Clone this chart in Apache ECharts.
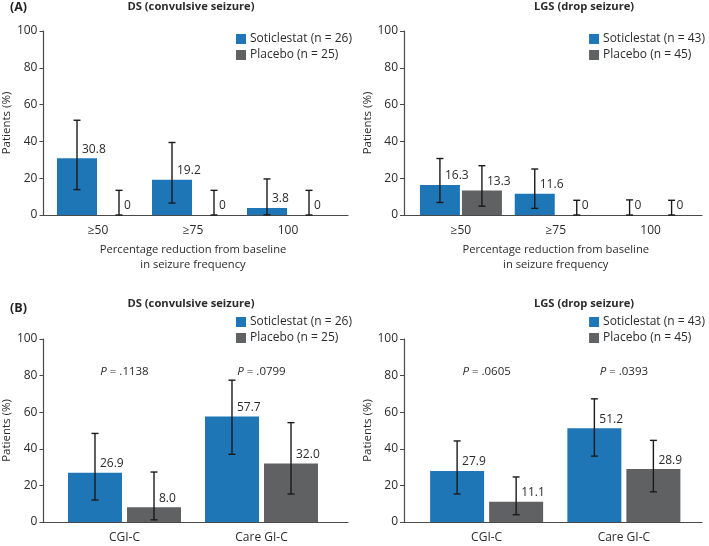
<!DOCTYPE html>
<html><head><meta charset="utf-8">
<script src="https://cdn.jsdelivr.net/npm/echarts@6/dist/echarts.min.js"></script>
<style>html,body{margin:0;padding:0;background:#fff}#c{width:709px;height:546px}</style>
</head><body><div id="c"></div>
<script>
// ---- Data ----
const catA = ['≥50', '≥75', '100'];
const catB = ['CGI-C', 'Care GI-C'];
const yTicks = [0, 20, 40, 60, 80, 100];

// (A) DS convulsive seizure
const dsA_soti = [30.8, 19.2, 3.8];
const dsA_soti_lo = [13.8, 6.5, 0.1];
const dsA_soti_hi = [51.5, 39.4, 19.6];
const dsA_plac = [0, 0, 0];
const dsA_plac_lo = [0, 0, 0];
const dsA_plac_hi = [13.4, 13.4, 13.4];

// (A) LGS drop seizure
const lgsA_soti = [16.3, 11.6, 0];
const lgsA_soti_lo = [6.8, 3.6, 0];
const lgsA_soti_hi = [30.7, 25.0, 8.2];
const lgsA_plac = [13.3, 0, 0];
const lgsA_plac_lo = [4.8, 0, 0];
const lgsA_plac_hi = [26.8, 8.0, 8.0];

// (B) DS convulsive seizure
const dsB_soti = [26.9, 57.7];
const dsB_soti_lo = [12.0, 37.0];
const dsB_soti_hi = [48.4, 77.5];
const dsB_plac = [8.0, 32.0];
const dsB_plac_lo = [1.2, 15.3];
const dsB_plac_hi = [27.3, 54.3];
const pDS = ['.1138', '.0799'];

// (B) LGS drop seizure
const lgsB_soti = [27.9, 51.2];
const lgsB_soti_lo = [15.3, 36.0];
const lgsB_soti_hi = [44.3, 67.3];
const lgsB_plac = [11.1, 28.9];
const lgsB_plac_lo = [4.0, 16.5];
const lgsB_plac_hi = [24.6, 44.6];
const pLGS = ['.0605', '.0393'];

const nDS = ['Soticlestat (n = 26)', 'Placebo (n = 25)'];
const nLGS = ['Soticlestat (n = 43)', 'Placebo (n = 45)'];

// ---- Styles ----
const FONT = 'Open Sans';
const BLUE = '#1f76b6';
const GRAY = '#5f6163';
const TXT = '#2b2b2b';
const AX = '#4a4a4a';

const option = {
  animation: false,
  textStyle: { fontFamily: FONT, color: TXT },
  grid: [], xAxis: [], yAxis: [], series: [], legend: [],
  graphic: []
};

function addPanel(cfg) {
  const gi = option.grid.length;
  // frame grid (axis lines + y labels)
  option.grid.push({ left: cfg.fLeft, width: cfg.fWidth, top: cfg.top, height: cfg.height, containLabel: false });
  option.xAxis.push({ gridIndex: gi, type: 'value', min: 0, max: 1,
    axisLine: { show: true, lineStyle: { color: AX, width: 1.2 } },
    axisTick: { show: false }, axisLabel: { show: false }, splitLine: { show: false } });
  option.yAxis.push({ gridIndex: gi, type: 'value', min: yTicks[0], max: yTicks[yTicks.length - 1], interval: yTicks[1] - yTicks[0],
    name: 'Patients (%)', nameLocation: 'middle', nameGap: 27,
    nameTextStyle: { fontSize: 11.5, color: TXT, fontFamily: FONT },
    axisLine: { show: true, lineStyle: { color: AX, width: 1.2 } },
    axisTick: { show: true, length: 4, lineStyle: { color: AX } },
    axisLabel: { fontSize: 12, color: TXT, margin: 6, fontFamily: FONT },
    splitLine: { show: false } });
  // data grid
  const di = gi + 1;
  option.grid.push({ left: cfg.dLeft, width: cfg.dWidth, top: cfg.top, height: cfg.height, containLabel: false });
  const xa = { gridIndex: di, type: 'category', data: cfg.cats,
    axisLine: { show: false }, axisTick: { show: false },
    axisLabel: { fontSize: 12, color: TXT, margin: 10, fontFamily: FONT } };
  if (cfg.xName) {
    Object.assign(xa, { name: cfg.xName, nameLocation: 'middle', nameGap: 27,
      nameTextStyle: { fontSize: 11.2, color: TXT, lineHeight: 15, fontFamily: FONT } });
  }
  option.xAxis.push(xa);
  option.yAxis.push({ gridIndex: di, type: 'value', min: 0, max: 100, show: false });

  const half = cfg.barWidth * (1 + cfg.gapPct / 100) / 2;
  const fmt = cfg.fixed ? (p => p.value.toFixed(1)) : (p => p.value === 0 ? '0' : p.value.toFixed(1));
  const bars = [
    { name: cfg.names[0], vals: cfg.soti, lo: cfg.sotiLo, hi: cfg.sotiHi, color: BLUE, off: -half },
    { name: cfg.names[1], vals: cfg.plac, lo: cfg.placLo, hi: cfg.placHi, color: GRAY, off: half }
  ];
  bars.forEach(b => {
    option.series.push({ type: 'bar', name: b.name, xAxisIndex: di, yAxisIndex: di,
      data: b.vals, barWidth: cfg.barWidth, barGap: cfg.gapPct + '%',
      itemStyle: { color: b.color },
      label: { show: true, position: 'top', align: 'left', distance: 3, offset: [5, 0],
        fontSize: 12, color: TXT, fontFamily: FONT, formatter: fmt } });
  });
  bars.forEach(b => {
    const off = b.off;
    option.series.push({ type: 'custom', name: b.name + ' CI', xAxisIndex: di, yAxisIndex: di,
      data: b.vals.map((v, i) => [i, b.lo[i], b.hi[i]]),
      encode: { x: 0, y: [1, 2] }, z: 5, silent: true,
      renderItem: function (params, api) {
        const i = api.value(0);
        const p1 = api.coord([i, api.value(1)]);
        const p2 = api.coord([i, api.value(2)]);
        const x = p1[0] + off;
        const cw = 3.5;
        const st = { stroke: '#1a1a1a', lineWidth: 1.4 };
        return { type: 'group', children: [
          { type: 'line', shape: { x1: x, y1: p1[1], x2: x, y2: p2[1] }, style: st },
          { type: 'line', shape: { x1: x - cw, y1: p1[1], x2: x + cw, y2: p1[1] }, style: st },
          { type: 'line', shape: { x1: x - cw, y1: p2[1], x2: x + cw, y2: p2[1] }, style: st }
        ] };
      } });
  });
  if (cfg.pvals) {
    option.series.push({ type: 'scatter', name: 'p', xAxisIndex: di, yAxisIndex: di,
      data: cfg.pvals.map((p, i) => [i, 82]),
      symbolSize: 1, itemStyle: { color: 'rgba(255,255,255,0)' }, silent: true,
      label: { show: true, position: 'inside', fontSize: 11.5, color: TXT, fontFamily: FONT,
        textBorderWidth: 0, opacity: 1,
        formatter: function (pp) { return '{i|P}{n| = ' + cfg.pvals[pp.dataIndex] + '}'; },
        rich: {
          i: { fontStyle: 'italic', fontSize: 11.5, color: TXT, fontFamily: FONT, textBorderWidth: 0 },
          n: { fontSize: 11.5, color: TXT, fontFamily: FONT, textBorderWidth: 0 }
        } } });
  }
  const leg = { data: cfg.names, orient: 'vertical', top: cfg.legTop,
    padding: 0, icon: 'rect', itemWidth: 10, itemHeight: 10, itemGap: 4, selectedMode: false, align: 'left',
    textStyle: { fontSize: 12, color: TXT, fontFamily: FONT, padding: [0, 0, 0, -1] } };
  if (cfg.legRight != null) leg.right = cfg.legRight; else leg.left = cfg.legLeft;
  option.legend.push(leg);
  option.graphic.push({ type: 'text', x: cfg.titleX, y: cfg.titleY,
    style: { text: cfg.title, font: 'bold 11.2px "' + FONT + '"', fill: TXT,
      textAlign: 'center', textVerticalAlign: 'middle' } });
}

const xName = 'Percentage reduction from baseline\nin seizure frequency';
addPanel({ fLeft: 42, fWidth: 306, dLeft: 50.5, dWidth: 285, top: 31, height: 184, cats: catA, xName: xName,
  names: nDS, soti: dsA_soti, sotiLo: dsA_soti_lo, sotiHi: dsA_soti_hi, plac: dsA_plac, placLo: dsA_plac_lo, placHi: dsA_plac_hi,
  barWidth: 40, gapPct: 5, fixed: false, legLeft: 236, legTop: 33, title: 'DS (convulsive seizure)', titleX: 191, titleY: 7 });
addPanel({ fLeft: 404, fWidth: 298, dLeft: 413.5, dWidth: 284.5, top: 31, height: 184, cats: catA, xName: xName,
  names: nLGS, soti: lgsA_soti, sotiLo: lgsA_soti_lo, sotiHi: lgsA_soti_hi, plac: lgsA_plac, placLo: lgsA_plac_lo, placHi: lgsA_plac_hi,
  barWidth: 40, gapPct: 5, fixed: false, legRight: 4, legTop: 33, title: 'LGS (drop seizure)', titleX: 584, titleY: 7 });
addPanel({ fLeft: 42, fWidth: 306, dLeft: 56, dWidth: 274, top: 339, height: 183, cats: catB,
  names: nDS, soti: dsB_soti, sotiLo: dsB_soti_lo, sotiHi: dsB_soti_hi, plac: dsB_plac, placLo: dsB_plac_lo, placHi: dsB_plac_hi,
  barWidth: 54, gapPct: 9.3, fixed: true, pvals: pDS, legLeft: 236, legTop: 316, title: 'DS (convulsive seizure)', titleX: 191, titleY: 304 });
addPanel({ fLeft: 404, fWidth: 298, dLeft: 418, dWidth: 274.5, top: 339, height: 183, cats: catB,
  names: nLGS, soti: lgsB_soti, sotiLo: lgsB_soti_lo, sotiHi: lgsB_soti_hi, plac: lgsB_plac, placLo: lgsB_plac_lo, placHi: lgsB_plac_hi,
  barWidth: 54, gapPct: 9.3, fixed: true, pvals: pLGS, legRight: 4, legTop: 316, title: 'LGS (drop seizure)', titleX: 584, titleY: 304 });

option.graphic.push({ type: 'text', x: 10, y: 7,
  style: { text: '(A)', font: 'bold 12.5px "' + FONT + '"', fill: '#222', textAlign: 'left', textVerticalAlign: 'middle' } });
option.graphic.push({ type: 'text', x: 10, y: 308,
  style: { text: '(B)', font: 'bold 12.5px "' + FONT + '"', fill: '#222', textAlign: 'left', textVerticalAlign: 'middle' } });

const chart = echarts.init(document.getElementById('c'), null, { renderer: 'canvas' });
chart.setOption(option);
</script></body></html>
